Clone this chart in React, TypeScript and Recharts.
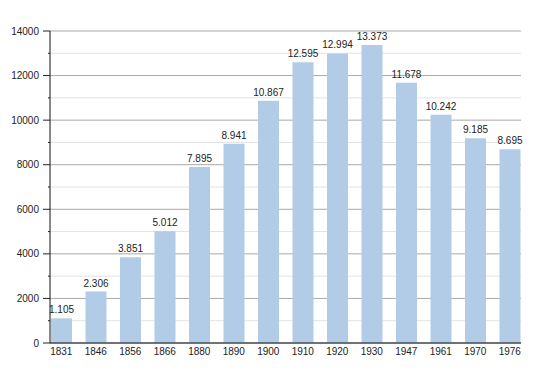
import { BarChart, Bar, XAxis, YAxis, CartesianGrid, LabelList } from 'recharts';

const years = ['1831', '1846', '1856', '1866', '1880', '1890', '1900', '1910', '1920', '1930', '1947', '1961', '1970', '1976'];
const population = [1105, 2306, 3851, 5012, 7895, 8941, 10867, 12595, 12994, 13373, 11678, 10242, 9185, 8695];
const majorTicks = [0, 2000, 4000, 6000, 8000, 10000, 12000, 14000];
const minorTicks = [1000, 3000, 5000, 7000, 9000, 11000, 13000];
const allTicks = [...majorTicks, ...minorTicks].sort((a, b) => a - b);

const data = years.map((year, i) => ({ year, value: population[i] }));

const FONT = '"Liberation Sans", Arial, sans-serif';

// separatore delle migliaia col punto
const fmt = (v: number) => String(v).replace(/\B(?=(\d{3})+(?!\d))/g, '.');

// tick dell'asse Y: tacca lunga + etichetta sui valori pari, tacca corta sui dispari
function YTick(props: any) {
  const { x, y, payload } = props;
  const major = payload.value % 2000 === 0;
  return (
    <g>
      <line x1={x - (major ? 7 : 2)} x2={x} y1={y} y2={y} stroke="#222" strokeWidth={1} />
      {major && (
        <text x={x - 11} y={y} dy="0.35em" textAnchor="end" fontSize={10} fontFamily={FONT} fill="#222">
          {payload.value}
        </text>
      )}
    </g>
  );
}

export default function App() {
  return (
    <div style={{ position: 'absolute', left: 0, top: 0, background: '#fff' }}>
      <BarChart width={550} height={373} data={data} margin={{ top: 31, right: 29, left: 0, bottom: 0 }}>
        <CartesianGrid vertical={false} horizontalValues={minorTicks} stroke="#e2e2e2" />
        <CartesianGrid vertical={false} horizontalValues={majorTicks} stroke="#a9a9a9" />
        <XAxis
          dataKey="year"
          height={30}
          padding={{ left: -6, right: -6 }}
          tickSize={0}
          tickMargin={5}
          interval={0}
          axisLine={{ stroke: '#111' }}
          tick={{ fontSize: 10, fontFamily: FONT, fill: '#222' }}
        />
        <YAxis
          width={50}
          domain={[0, 14000]}
          ticks={allTicks}
          interval={0}
          tickSize={0}
          tickMargin={0}
          tickLine={false}
          axisLine={{ stroke: '#111' }}
          tick={<YTick />}
        />
        <Bar dataKey="value" fill="#b2cbe6" barSize={21} isAnimationActive={false}>
          <LabelList
            dataKey="value"
            position="top"
            offset={5}
            formatter={(v: any) => fmt(Number(v))}
            style={{ fontSize: 10, fontFamily: FONT, fill: '#222' }}
          />
        </Bar>
      </BarChart>
    </div>
  );
}
